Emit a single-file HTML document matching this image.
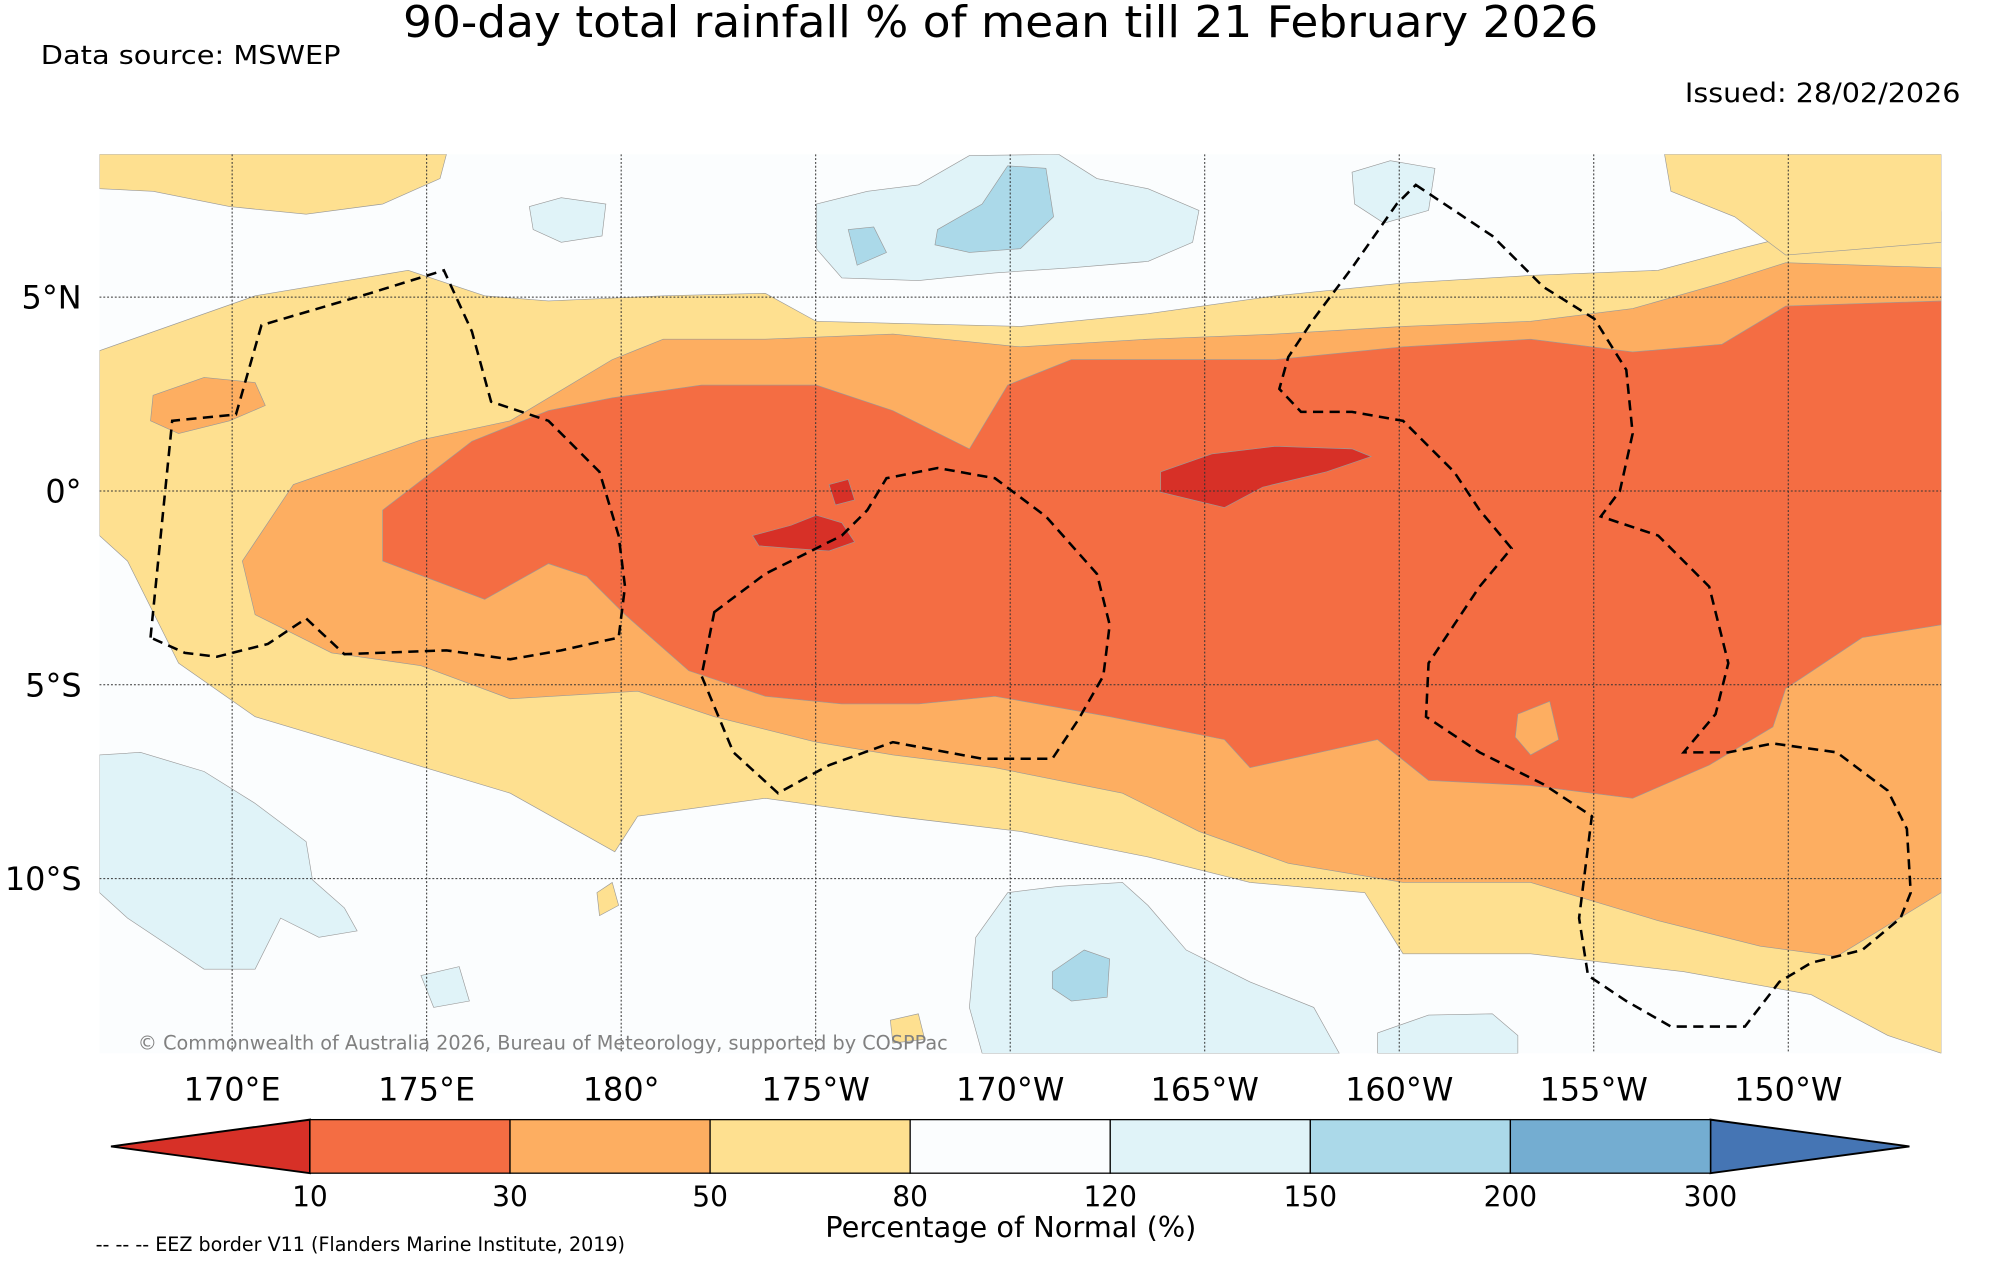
<!DOCTYPE html>
<html><head><meta charset="utf-8"><style>
html,body{margin:0;padding:0;background:#fff;}
svg{display:block;font-family:"DejaVu Sans","Liberation Sans",sans-serif;}
</style></head><body>
<svg id="chart" width="2000" height="1265" viewBox="0 0 1568 992" preserveAspectRatio="none" xmlns="http://www.w3.org/2000/svg">
<rect x="0" y="0" width="1568" height="992" fill="#ffffff"/>
<text x="316" y="29" font-size="34" textLength="937" lengthAdjust="spacingAndGlyphs" fill="#000">90-day total rainfall % of mean till 21 February 2026</text>
<text x="32" y="50" font-size="20.5" textLength="235" lengthAdjust="spacingAndGlyphs" fill="#000">Data source: MSWEP</text>
<text x="1321" y="80" font-size="21" textLength="216" lengthAdjust="spacingAndGlyphs" fill="#000">Issued: 28/02/2026</text>

<g>
<clipPath id="mc"><rect x="78" y="121" width="1444" height="705"/></clipPath>
<g clip-path="url(#mc)">
<rect x="78" y="121" width="1444" height="705" fill="#fbfdfe"/>
<g stroke="#999" stroke-width="0.5">
<path fill="#fee090" d="M78,275 L200,232 L320,212 L380,232 L430,236 L520,232 L600,230 L640,252 L800,256 L900,246 L1000,232 L1100,222 L1200,216 L1300,212 L1360,196 L1400,186 L1450,176 L1522,166 L1522,826 L1480,812 L1420,780 L1320,762 L1200,748 L1100,748 L1070,700 L980,692 L900,672 L800,652 L700,640 L600,626 L500,640 L482,668 L400,622 L300,592 L200,562 L140,520 L100,440 L78,420 Z"/>
<path fill="#fee090" d="M78,121 L350,121 L345,140 L300,160 L240,168 L180,162 L120,150 L78,148 Z"/>
<path fill="#fee090" d="M1305,121 L1522,121 L1522,190 L1450,196 L1400,200 L1360,170 L1310,150 Z"/>
<path fill="#fdae61" d="M190,440 L230,380 L330,345 L400,330 L480,282 L520,266 L600,266 L700,262 L800,272 L900,266 L1000,262 L1100,256 L1200,252 L1280,242 L1350,222 L1400,206 L1522,210 L1522,700 L1440,750 L1380,742 L1300,722 L1200,692 L1100,692 L1010,677 L940,652 L880,622 L780,602 L700,592 L640,582 L560,562 L500,542 L400,548 L330,522 L260,512 L200,482 Z"/>
<path fill="#fdae61" d="M120,310 L160,296 L200,300 L208,318 L180,330 L140,340 L118,330 Z"/>
<path fill="#f46d43" d="M300,400 L370,346 L430,322 L480,312 L550,302 L640,302 L700,322 L760,352 L790,302 L840,282 L900,282 L1000,282 L1100,272 L1200,266 L1280,276 L1350,270 L1400,240 L1522,236 L1522,490 L1460,500 L1400,540 L1390,570 L1340,600 L1280,626 L1200,616 L1120,612 L1080,580 L980,602 L960,580 L870,562 L780,546 L720,552 L660,552 L600,546 L540,526 L490,482 L460,452 L430,442 L380,470 L300,440 Z"/>
<path fill="#fdae61" d="M1190,560 L1215,550 L1222,580 L1200,592 L1188,578 Z"/>
<path fill="#d73027" d="M910,370 L950,356 L1000,350 L1060,352 L1075,358 L1040,370 L990,382 L960,398 L910,386 Z"/>
<path fill="#d73027" d="M590,420 L620,412 L640,404 L660,410 L670,425 L650,432 L620,430 L595,428 Z"/>
<path fill="#d73027" d="M650,380 L665,376 L670,392 L655,396 Z"/>
<path fill="#e0f3f8" d="M640,160 L680,150 L720,145 L760,122 L830,121 L860,140 L900,148 L940,165 L935,190 L900,205 L840,210 L780,214 L720,220 L660,218 L640,195 Z"/>
<path fill="#abd9e9" d="M735,180 L770,160 L790,130 L820,132 L826,170 L800,195 L760,198 L733,192 Z"/>
<path fill="#abd9e9" d="M665,180 L685,178 L695,198 L672,208 Z"/>
<path fill="#e0f3f8" d="M415,162 L440,155 L475,160 L472,185 L440,190 L418,180 Z"/>
<path fill="#e0f3f8" d="M1060,135 L1090,126 L1125,132 L1120,165 L1085,175 L1062,160 Z"/>
<path fill="#e0f3f8" d="M78,592 L110,590 L160,605 L200,630 L240,660 L245,690 L270,712 L280,730 L250,735 L220,720 L200,760 L160,760 L130,740 L100,720 L78,700 Z"/>
<path fill="#e0f3f8" d="M765,735 L790,700 L830,695 L880,692 L900,710 L930,745 L980,770 L1030,790 L1050,826 L770,826 L760,790 Z"/>
<path fill="#abd9e9" d="M825,762 L850,745 L870,752 L868,782 L840,785 L825,775 Z"/>
<path fill="#e0f3f8" d="M1080,810 L1120,796 L1170,795 L1190,812 L1190,826 L1080,826 Z"/>
<path fill="#e0f3f8" d="M330,765 L360,758 L368,785 L340,790 Z"/>
<path fill="#fee090" d="M468,700 L480,692 L485,710 L470,718 Z"/>
<path fill="#fee090" d="M698,800 L720,795 L725,815 L700,818 Z"/>
</g>
<g id="grid" stroke="#333" stroke-width="0.8" stroke-dasharray="1.5,1.5" fill="none"></g>
<g fill="none" stroke="#000" stroke-width="2" stroke-dasharray="8,5">
<path d="M118,500 L135,330 L185,325 L205,255 L290,230 L348,212 L370,260 L385,315 L430,330 L470,370 L485,420 L490,460 L485,500 L440,510 L400,517 L350,510 L270,513 L240,485 L210,505 L170,515 L145,512 Z"/>
<path d="M560,480 L600,450 L660,420 L680,400 L695,375 L735,367 L780,375 L820,405 L860,450 L870,490 L865,530 L845,565 L825,595 L770,595 L700,582 L650,600 L610,622 L575,590 L550,530 Z"/>
<path d="M1110,145 L1170,185 L1210,225 L1250,250 L1275,290 L1280,340 L1270,385 L1255,405 L1300,420 L1340,460 L1355,520 L1345,560 L1320,590 L1355,590 L1390,583 L1440,590 L1480,620 L1495,650 L1498,700 L1490,720 L1460,745 L1420,755 L1395,770 L1368,805 L1310,805 L1275,785 L1245,765 L1238,720 L1248,640 L1210,615 L1160,590 L1118,562 L1120,520 L1140,490 L1160,460 L1185,430 L1160,400 L1140,370 L1100,330 L1060,323 L1020,323 L1003,305 L1010,280 L1030,250 L1060,210 L1095,160 Z"/>
</g>
<text x="108" y="823" font-size="15" textLength="635" lengthAdjust="spacingAndGlyphs" fill="#808080">© Commonwealth of Australia 2026, Bureau of Meteorology, supported by COSPPac</text>
</g>
</g>
<g id="lonticks"></g>
<g id="latticks"></g>
<g id="cbar"></g>
<text x="647" y="970" font-size="22" textLength="291" lengthAdjust="spacingAndGlyphs" fill="#000">Percentage of Normal (%)</text>
<text x="75" y="981" font-size="15" textLength="415" lengthAdjust="spacingAndGlyphs" fill="#000">-- -- -- EEZ border V11 (Flanders Marine Institute, 2019)</text>
</svg>
<script>
const lonTicks=[170,175,180,185,190,195,200,205,210];
const lonLabels=["170°E","175°E","180°","175°W","170°W","165°W","160°W","155°W","150°W"];
const latTicks=[5,0,-5,-10];
const latLabels=["5°N","0°","5°S","10°S"];
const cbarBounds=["10","30","50","80","120","150","200","300"];
const cbarColors=["#f46d43","#fdae61","#fee090","#fbfdfe","#e0f3f8","#abd9e9","#74add1"];
const underColor="#d73027", overColor="#4575b4";
const NS="http://www.w3.org/2000/svg";
function xLon(l){return 182+(l-170)*30.5;}
function yLat(l){return 385-l*30.4;}
function mk(t,a,p){const e=document.createElementNS(NS,t);for(const k in a)e.setAttribute(k,a[k]);p.appendChild(e);return e;}
const grid=document.getElementById('grid'),lt=document.getElementById('lonticks'),at=document.getElementById('latticks'),cb=document.getElementById('cbar');
lonTicks.forEach((l,i)=>{
 const g=mk('line',{x1:xLon(l),x2:xLon(l),y1:121,y2:826},grid);
 
 
 const t=mk('text',{x:xLon(l),y:863,'font-size':25,'text-anchor':'middle'},lt);
 t.textContent=lonLabels[i];
 
 
});
latTicks.forEach((l,i)=>{
 const g=mk('line',{x1:78,x2:1522,y1:yLat(l),y2:yLat(l)},grid);
 
 
 const t=mk('text',{x:64,y:yLat(l)+9,'font-size':25,'text-anchor':'end'},at);
 t.textContent=latLabels[i];
 
 
});
const x0=243,x1=1341,y0=878,h=42,w=(x1-x0)/cbarColors.length;
const ul=mk('polygon',{points:`87,${y0+h/2} ${x0},${y0} ${x0},${y0+h}`,fill:underColor,stroke:'#000','stroke-width':1.5},cb);


const ov=mk('polygon',{points:`1497,${y0+h/2} ${x1},${y0} ${x1},${y0+h}`,fill:overColor,stroke:'#000','stroke-width':1.5},cb);


cbarColors.forEach((c,i)=>{
 const r=mk('rect',{x:x0+i*w,y:y0,width:w,height:h,fill:c,stroke:'#000','stroke-width':1},cb);
 
 
});
cbarBounds.forEach((b,i)=>{
 const t=mk('text',{x:x0+i*w,y:946,'font-size':22,'text-anchor':'middle'},cb);
 t.textContent=b;
 
 
});
</script>
</body></html>
